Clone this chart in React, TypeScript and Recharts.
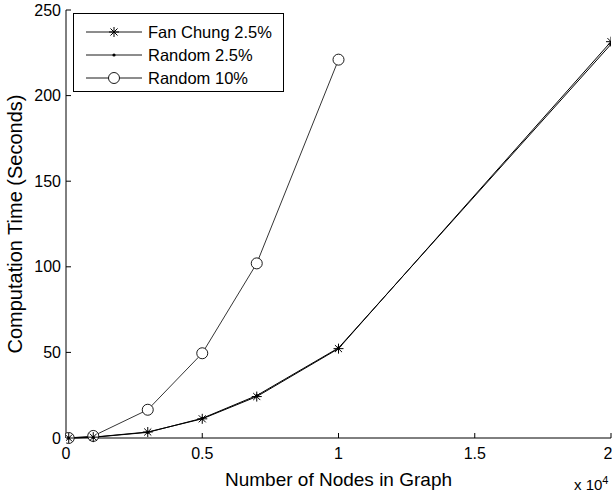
import { LineChart, Line, XAxis, YAxis, Legend } from "recharts";

// number of nodes in the generated graph
const nodes = [100, 1000, 3000, 5000, 7000, 10000, 20000];
// computation time in seconds
const fanChung25 = [0, 0.5, 3.5, 11.2, 24.2, 52.2, 231.5];
const random25 = [0, 0.4, 3.3, 11.5, 24.8, 52.6, 230];
const random10 = [0, 1.2, 16.5, 49.5, 102, 221];

const xTicks = [0, 5000, 10000, 15000, 20000];
const yTicks = [0, 50, 100, 150, 200, 250];

const toPoints = (vals: number[]) => vals.map((v, i) => ({ nodes: nodes[i], time: v }));

const fanData = toPoints(fanChung25);
const rand25Data = toPoints(random25);
const rand10Data = toPoints(random10);

const FONT = '"Liberation Sans", Arial, Helvetica, sans-serif';
const tickStyle = { fontSize: 16, fill: "#000", fontFamily: FONT };

function Asterisk({ cx, cy }: any) {
  if (cx == null || cy == null) return null;
  const r = 5;
  const d = r * 0.7071;
  return (
    <g stroke="#000" strokeWidth={1}>
      <line x1={cx - r} y1={cy} x2={cx + r} y2={cy} />
      <line x1={cx} y1={cy - r} x2={cx} y2={cy + r} />
      <line x1={cx - d} y1={cy - d} x2={cx + d} y2={cy + d} />
      <line x1={cx - d} y1={cy + d} x2={cx + d} y2={cy - d} />
    </g>
  );
}

function SmallDot({ cx, cy }: any) {
  if (cx == null || cy == null) return null;
  return <circle cx={cx} cy={cy} r={1.6} fill="#000" />;
}

function OpenCircle({ cx, cy }: any) {
  if (cx == null || cy == null) return null;
  return <circle cx={cx} cy={cy} r={5.5} fill="#fff" stroke="#000" strokeWidth={0.9} />;
}

const legendRows = [
  { name: "Fan Chung 2.5%", marker: "star" },
  { name: "Random 2.5%", marker: "dot" },
  { name: "Random 10%", marker: "circle" },
];

function LegendBox() {
  return (
    <svg width={211} height={79} style={{ display: "block" }}>
      <rect x={0.5} y={0.5} width={210} height={78} fill="#fff" stroke="#000" strokeWidth={1} />
      {legendRows.map((row, i) => {
        const y = 19 + i * 23;
        return (
          <g key={row.name}>
            <line x1={13} y1={y} x2={69} y2={y} stroke="#000" strokeWidth={0.9} />
            {row.marker === "star" && <Asterisk cx={41} cy={y} />}
            {row.marker === "dot" && <SmallDot cx={41} cy={y} />}
            {row.marker === "circle" && <OpenCircle cx={41} cy={y} />}
            <text x={75} y={y} dy="0.36em" fontSize={16.5} fontFamily={FONT} fill="#000">
              {row.name}
            </text>
          </g>
        );
      })}
    </svg>
  );
}

export default function App() {
  return (
    <div style={{ position: "absolute", left: 0, top: 0, width: 612, height: 494, background: "#fff" }}>
      <LineChart width={612} height={494} margin={{ top: 10, right: 1, left: 0, bottom: 0 }}>
        <XAxis
          dataKey="nodes"
          type="number"
          domain={[0, 20000]}
          ticks={xTicks}
          tickFormatter={(v: number) => String(v / 10000)}
          height={56}
          tickSize={-5}
          tickMargin={15}
          tick={tickStyle}
          stroke="#000"
          allowDataOverflow
          label={{
            value: "Number of Nodes in Graph",
            position: "insideBottom",
            offset: 8,
            style: { fontSize: 19, fill: "#000", fontFamily: FONT },
          }}
        />
        <XAxis
          xAxisId="top"
          orientation="top"
          type="number"
          domain={[0, 20000]}
          ticks={xTicks}
          height={0}
          tickSize={-5}
          tick={false}
          stroke="#000"
        />
        <YAxis
          type="number"
          domain={[0, 250]}
          ticks={yTicks}
          width={66}
          tickSize={-5}
          tickMargin={10}
          tick={tickStyle}
          stroke="#000"
          label={{
            value: "Computation Time (Seconds)",
            angle: -90,
            position: "insideLeft",
            offset: 15,
            style: { fontSize: 20, fill: "#000", fontFamily: FONT, textAnchor: "middle" },
          }}
        />
        <YAxis
          yAxisId="right"
          orientation="right"
          type="number"
          domain={[0, 250]}
          ticks={yTicks}
          width={0}
          tickSize={-5}
          tick={false}
          stroke="#000"
        />
        <Legend
          verticalAlign="middle"
          layout="horizontal"
          wrapperStyle={{ left: 73, top: 13, width: 211, height: 79 }}
          content={() => <LegendBox />}
        />
        <Line
          data={rand10Data}
          dataKey="time"
          name="Random 10%"
          stroke="#000"
          strokeWidth={0.8}
          dot={<OpenCircle />}
          isAnimationActive={false}
        />
        <Line
          data={rand25Data}
          dataKey="time"
          name="Random 2.5%"
          stroke="#000"
          strokeWidth={1}
          dot={<SmallDot />}
          isAnimationActive={false}
        />
        <Line
          data={fanData}
          dataKey="time"
          name="Fan Chung 2.5%"
          stroke="#000"
          strokeWidth={1}
          dot={<Asterisk />}
          isAnimationActive={false}
        />
      </LineChart>
      <div
        style={{
          position: "absolute",
          left: 574,
          top: 474,
          fontFamily: FONT,
          fontSize: 15,
          color: "#000",
          whiteSpace: "nowrap",
        }}
      >
        x 10<sup style={{ fontSize: 11, verticalAlign: "6px" }}>4</sup>
      </div>
    </div>
  );
}
